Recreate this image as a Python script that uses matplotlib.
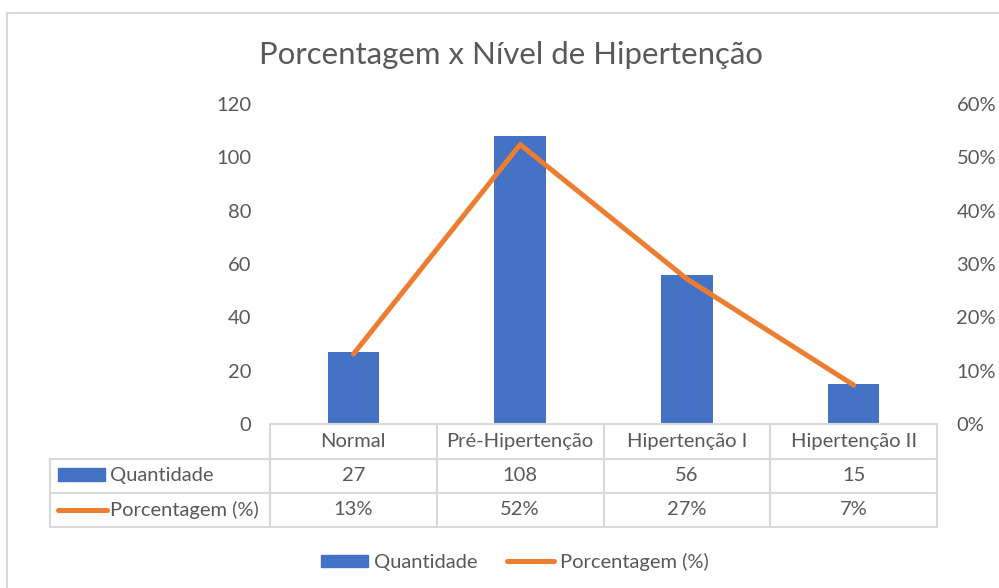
import matplotlib
matplotlib.use("Agg")
import matplotlib.pyplot as plt
from matplotlib.patches import Rectangle, Patch
from matplotlib.lines import Line2D
from matplotlib.transforms import blended_transform_factory
from matplotlib.ticker import PercentFormatter

# data
categorias = ["Normal", "Pré-Hipertenção", "Hipertenção I", "Hipertenção II"]
quantidade = [27, 108, 56, 15]
porcentagem = [0.131, 0.524, 0.272, 0.073]
porcentagem_txt = ["13%", "52%", "27%", "7%"]
series = ["Quantidade", "Porcentagem (%)"]

BLUE = "#4472C4"
ORANGE = "#ED7D31"
GRID = "#D9D9D9"
TXT = "#595959"
W, H = 999, 588
FS = 14.5

plt.rcParams["font.family"] = ["Lato", "DejaVu Sans"]


def box(x0, y0, x1, y1):
    # pixel box (top-left origin) -> figure fraction rect
    return [x0 / W, 1 - y1 / H, (x1 - x0) / W, (y1 - y0) / H]


fig = plt.figure(figsize=(W / 100, H / 100), dpi=100)

# outer chart border
fig.add_artist(Rectangle((7 / W, -0.1), 1.2, 1 - 13 / H + 0.1, transform=fig.transFigure,
                         fill=False, edgecolor=GRID, lw=1.5))

fig.text(511 / W, 1 - 55 / H, "Porcentagem x Nível de Hipertenção", ha="center", va="center",
         fontsize=22.4, color=TXT)

# main axes
ax = fig.add_axes(box(270, 104, 937, 424))
x = list(range(len(categorias)))
ax.bar(x, quantidade, width=0.31, color=BLUE, zorder=2)
ax.set_xlim(-0.5, len(categorias) - 0.5)
ax.set_ylim(0, 120)
ax.set_yticks(range(0, 121, 20))
ax.set_xticks([])
ax.tick_params(axis="y", length=0, pad=13.5, labelsize=FS, labelcolor=TXT)
for s in ax.spines.values():
    s.set_visible(False)

ax2 = ax.twinx()
ax2.plot(x, porcentagem, color=ORANGE, lw=3.6, solid_capstyle="round", zorder=3)
ax2.set_ylim(0, 0.6)
ax2.set_yticks([i / 10 for i in range(7)])
ax2.yaxis.set_major_formatter(PercentFormatter(1.0, decimals=0))
ax2.tick_params(axis="y", length=0, pad=14, labelsize=FS, labelcolor=TXT)
for s in ax2.spines.values():
    s.set_visible(False)

# data table under the chart
tax = fig.add_axes(box(50, 424, 937, 528))
tax.set_xlim(50, 937)
tax.set_ylim(528, 424)
tax.axis("off")
tr = blended_transform_factory(ax.transData, tax.transData)

rows = [424, 459, 493, 527]
n = len(categorias)
tax.plot([-0.5, n - 0.5], [rows[0], rows[0]], color=GRID, lw=1.5, transform=tr, clip_on=False)
for r in rows[1:]:
    tax.plot([50, 937], [r, r], color=GRID, lw=1.5, clip_on=False)
for b in [i - 0.5 for i in range(n + 1)]:
    tax.plot([b, b], [rows[0], rows[-1]], color=GRID, lw=1.5, transform=tr, clip_on=False)
tax.plot([50, 50], [rows[1], rows[-1]], color=GRID, lw=1.5, clip_on=False)

for i in range(n):
    tax.text(i, (rows[0] + rows[1]) / 2, categorias[i], transform=tr, ha="center", va="center",
             fontsize=FS, color=TXT)
    tax.text(i, (rows[1] + rows[2]) / 2, str(quantidade[i]), transform=tr, ha="center",
             va="center", fontsize=FS, color=TXT)
    tax.text(i, (rows[2] + rows[3]) / 2, porcentagem_txt[i], transform=tr, ha="center",
             va="center", fontsize=FS, color=TXT)

# row keys
tax.add_patch(Rectangle((58, 468), 47, 13, color=BLUE, clip_on=False))
tax.plot([58, 107], [510, 510], color=ORANGE, lw=3.6, solid_capstyle="round", clip_on=False)
tax.text(110, (rows[1] + rows[2]) / 2, series[0], ha="left", va="center", fontsize=FS, color=TXT)
tax.text(110, (rows[2] + rows[3]) / 2, series[1], ha="left", va="center", fontsize=FS, color=TXT)

# legend
handles = [Patch(facecolor=BLUE, edgecolor=BLUE),
           Line2D([], [], color=ORANGE, lw=3.6, solid_capstyle="round")]
fig.legend(handles, series, loc="center", bbox_to_anchor=(515 / W, 1 - 562 / H), ncol=2,
           frameon=False, fontsize=FS, labelcolor=TXT, handlelength=2.3, handleheight=0.55,
           handletextpad=0.3, columnspacing=1.5)

fig.savefig("out.png", dpi=100)
